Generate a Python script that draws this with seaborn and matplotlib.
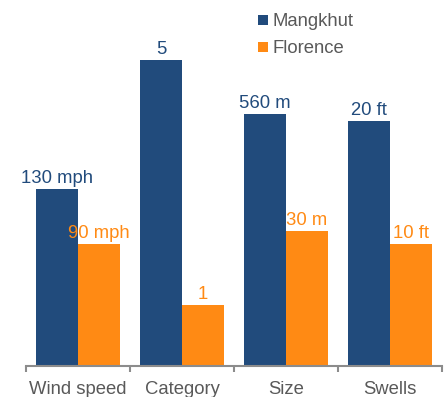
import matplotlib
matplotlib.use("Agg")
import matplotlib.pyplot as plt
from matplotlib.lines import Line2D
import numpy as np
import pandas as pd
import seaborn as sns

# Storm comparison: each metric has its own unit, so bars are drawn on a
# relative scale and labelled with the real figures.
categories = ["Wind speed", "Category", "Size", "Swells"]
series = ["Mangkhut", "Florence"]
mangkhut_height = [177, 306, 252, 245]
florence_height = [122, 61, 135, 122]
mangkhut_labels = ["130 mph", "5", "560 m", "20 ft"]
florence_labels = ["90 mph", "1", "30 m", "10 ft"]
colors = ["#214B7C", "#FF8A14"]

sns.set_theme(style="white")
plt.rcParams["font.family"] = ["Liberation Sans", "DejaVu Sans"]

df = pd.DataFrame({
    "metric": categories * 2,
    "storm": [series[0]] * 4 + [series[1]] * 4,
    "height": mangkhut_height + florence_height,
    "label": mangkhut_labels + florence_labels,
})

W, H, DPI = 447, 397, 100
FS = 13.3
fig = plt.figure(figsize=(W / DPI, H / DPI), dpi=DPI)
ax = fig.add_axes([26 / W, (H - 366) / H, 416 / W, 366 / H])

sns.barplot(data=df, x="metric", y="height", hue="storm", order=categories,
            hue_order=series, palette=colors, width=0.8, saturation=1,
            linewidth=0, legend=False, ax=ax)

ax.set_xlim(-0.5, len(categories) - 0.5)
ax.set_ylim(0, 366)
ax.set_xlabel("")
ax.set_ylabel("")
ax.set_yticks([])

# value labels above each bar, in the bar's own colour
for container, labels, col in zip(ax.containers, [mangkhut_labels, florence_labels], colors):
    for bar, txt in zip(container, labels):
        ax.annotate(txt, (bar.get_x() + bar.get_width() / 2, bar.get_height()),
                    xytext=(0, 4.5), textcoords="offset points",
                    ha="center", va="baseline", color=col, fontsize=FS)

for side in ["left", "right", "top"]:
    ax.spines[side].set_visible(False)
ax.spines["bottom"].set_color("#8C8C8C")
ax.spines["bottom"].set_linewidth(1.5)

# category labels centred, tick marks on the category boundaries
ax.set_xticks(range(len(categories)))
ax.set_xticklabels(categories, fontsize=FS, color="#595959")
ax.tick_params(axis="x", which="major", length=0, pad=11)
ax.set_xticks(np.arange(-0.5, len(categories)), minor=True)
ax.tick_params(axis="x", which="minor", bottom=True, length=4, width=1.5,
               color="#8C8C8C")

handles = [Line2D([], [], marker="s", linestyle="none", markersize=7.2,
                  markerfacecolor=c, markeredgewidth=0) for c in colors]
leg = fig.legend(handles, series, loc="upper left",
                 bbox_to_anchor=(257 / W, 1 - 13 / H), frameon=False,
                 fontsize=FS, handlelength=0.6, handletextpad=0.25,
                 labelspacing=0.55, borderpad=0, borderaxespad=0)
for t in leg.get_texts():
    t.set_color("#595959")

fig.savefig("out.png", dpi=DPI)
